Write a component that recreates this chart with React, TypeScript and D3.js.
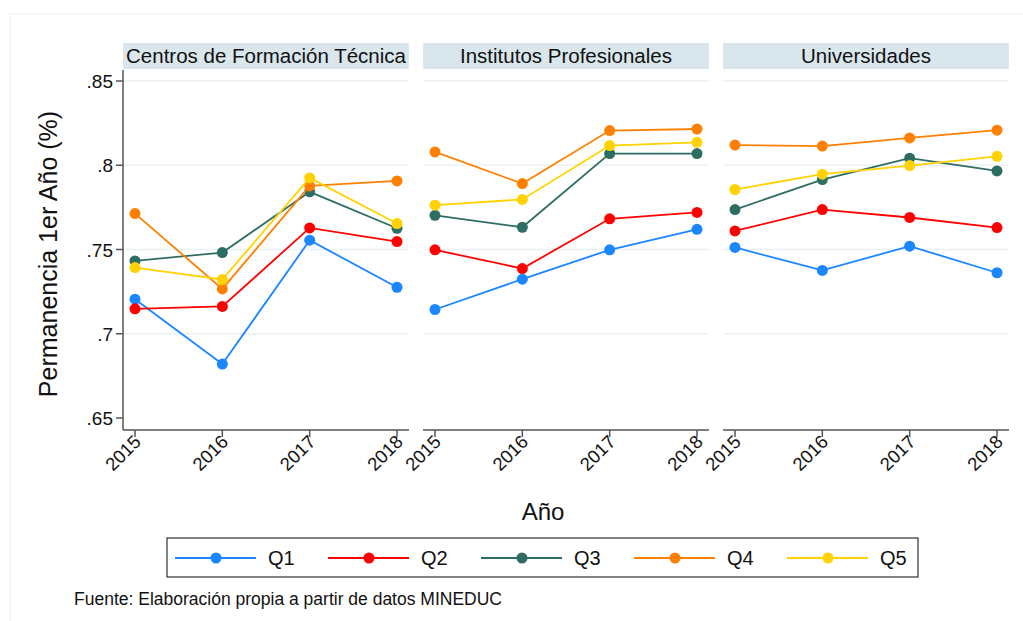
import React from 'react';
import * as d3 from 'd3';

// Años y paneles
const years = ['2015', '2016', '2017', '2018'];
const panels = ['Centros de Formación Técnica', 'Institutos Profesionales', 'Universidades'];
const quintiles = ['Q1', 'Q2', 'Q3', 'Q4', 'Q5'];
const yTicks = [0.65, 0.7, 0.75, 0.8, 0.85];

// Valores por panel (CFT, IP, U), cada uno Q1..Q5
const cftValues = [
  [0.7205, 0.682, 0.7555, 0.7276],
  [0.7148, 0.7162, 0.7628, 0.7547],
  [0.7432, 0.7482, 0.7842, 0.7626],
  [0.7713, 0.7266, 0.7877, 0.7907],
  [0.7393, 0.7322, 0.7925, 0.7654],
];
const ipValues = [
  [0.7144, 0.7324, 0.7498, 0.762],
  [0.7498, 0.7387, 0.7682, 0.772],
  [0.7703, 0.7632, 0.8069, 0.8069],
  [0.8079, 0.7891, 0.8206, 0.8215],
  [0.7763, 0.7797, 0.8117, 0.8136],
];
const uValues = [
  [0.7512, 0.7376, 0.752, 0.7362],
  [0.761, 0.7737, 0.769, 0.763],
  [0.7737, 0.7915, 0.8042, 0.7966],
  [0.812, 0.8114, 0.8162, 0.8208],
  [0.7856, 0.7947, 0.7998, 0.8053],
];
const panelValues = [cftValues, ipValues, uValues];

const colors = ['#1a86ff', '#ff0000', '#2e6e62', '#ff8000', '#ffd200'];

const FONT = '"Liberation Sans", Arial, sans-serif';

export default function App() {
  const width = 1023;
  const height = 621;
  const plotTop = 70;
  const plotBottom = 430;
  const panelW = 286;
  const panelLeft = [123, 423, 723];

  const y = d3.scaleLinear().domain([0.65, 0.85]).range([418, 81]);
  const line = (x: d3.ScalePoint<string>) =>
    d3
      .line<number>()
      .x((_, i) => x(years[i]) as number)
      .y((d) => y(d));

  const legendX = d3.scalePoint<string>().domain(quintiles).range([175, 787]);

  return (
    <svg
      width={width}
      height={height}
      style={{ position: 'absolute', left: 0, top: 0, background: '#fff' }}
      fontFamily={FONT}
    >
      <rect x={10} y={14} width={1030} height={620} fill="none" stroke="#eeeeee" />

      {panels.map((name, p) => {
        const left = panelLeft[p];
        const x = d3
          .scalePoint<string>()
          .domain(years)
          .range([left + 12, left + 274]);
        const gen = line(x);
        return (
          <g key={name}>
            <rect x={left} y={43} width={panelW} height={26} fill="#d9e6ec" />
            <text x={left + panelW / 2} y={63} textAnchor="middle" fontSize={20.5} fill="#111">
              {name}
            </text>
            {yTicks
              .filter((t) => t > 0.66)
              .map((t) => (
                <line
                  key={t}
                  x1={left}
                  x2={left + panelW}
                  y1={y(t)}
                  y2={y(t)}
                  stroke="#eaf1f4"
                  strokeWidth={1.5}
                />
              ))}
            <line x1={left} x2={left + panelW} y1={plotBottom} y2={plotBottom} stroke="#555" strokeWidth={1.5} />
            {years.map((yr) => (
              <g key={yr}>
                <line
                  x1={x(yr)}
                  x2={x(yr)}
                  y1={plotBottom}
                  y2={plotBottom + 7}
                  stroke="#555"
                  strokeWidth={1.5}
                />
                <text
                  transform={`translate(${(x(yr) as number) + 7},${plotBottom + 13}) rotate(-45)`}
                  textAnchor="end"
                  fontSize={18.5}
                  fill="#111"
                >
                  {yr}
                </text>
              </g>
            ))}
            {panelValues[p].map((vals, q) => (
              <g key={q}>
                <path d={gen(vals) || ''} fill="none" stroke={colors[q]} strokeWidth={1.8} />
                {vals.map((v, i) => (
                  <circle key={i} cx={x(years[i])} cy={y(v)} r={5.5} fill={colors[q]} />
                ))}
              </g>
            ))}
          </g>
        );
      })}

      {/* eje Y */}
      <line x1={123} x2={123} y1={plotTop} y2={plotBottom} stroke="#555" strokeWidth={1.5} />
      {yTicks.map((t) => (
        <g key={t}>
          <line x1={116} x2={123} y1={y(t)} y2={y(t)} stroke="#555" strokeWidth={1.5} />
          <text x={113} y={y(t) + 7} textAnchor="end" fontSize={19} fill="#111">
            {d3.format('.2~f')(t).replace(/^0/, '')}
          </text>
        </g>
      ))}
      <text
        transform="translate(57,254) rotate(-90)"
        textAnchor="middle"
        fontSize={25}
        fill="#111"
      >
        Permanencia 1er Año (%)
      </text>
      <text x={543} y={520} textAnchor="middle" fontSize={24} fill="#111">
        Año
      </text>

      {/* leyenda */}
      <rect x={167} y={538} width={751} height={39} fill="#fff" stroke="#333" strokeWidth={1.2} />
      {quintiles.map((q, i) => {
        const lx = legendX(q) as number;
        return (
          <g key={q}>
            <line x1={lx} x2={lx + 81} y1={558} y2={558} stroke={colors[i]} strokeWidth={1.8} />
            <circle cx={lx + 41} cy={558} r={5.5} fill={colors[i]} />
            <text x={lx + 93} y={565} fontSize={20} fill="#111">
              {q}
            </text>
          </g>
        );
      })}

      <text x={74} y={605} fontSize={17.5} fill="#111">
        Fuente: Elaboración propia a partir de datos MINEDUC
      </text>
    </svg>
  );
}
